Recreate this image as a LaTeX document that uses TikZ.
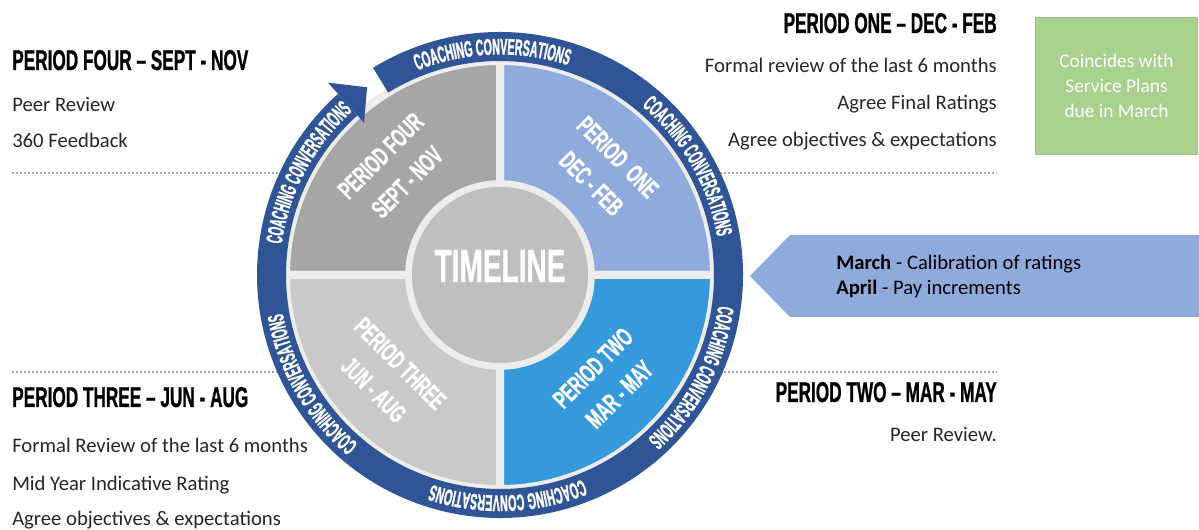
\documentclass[tikz,border=0pt]{standalone}
\usepackage{fontspec}
\setmainfont{Carlito}
\newfontfamily\bebas[FakeStretch=0.6, FakeBold=0.8]{Liberation Sans}
\newfontfamily\bebasnarrow[FakeStretch=0.47, FakeBold=1.2]{Liberation Sans}
\usetikzlibrary{decorations.text}

\definecolor{ringblue}{HTML}{2F5597}
\definecolor{qone}{HTML}{8FAADC}
\definecolor{qtwo}{HTML}{3599DB}
\definecolor{qthree}{HTML}{C9C9C9}
\definecolor{qfour}{HTML}{A6A6A6}
\definecolor{hubgray}{HTML}{BFBFBF}
\definecolor{gapgray}{HTML}{EDEDED}
\definecolor{plangreen}{HTML}{A9D18E}
\definecolor{planedge}{HTML}{A3BF90}
\definecolor{dotgray}{HTML}{A6A6A6}
\definecolor{bodytext}{HTML}{262626}

\begin{document}
\begin{tikzpicture}[x=0.75pt,y=0.75pt,
  heading/.style={font=\bebas\bfseries\fontsize{21.5}{24}\selectfont, text=black, inner sep=0pt},
  body/.style={font=\fontsize{15.5}{18}\selectfont, text=bodytext, inner sep=0pt},
  quarter/.style={font=\bebas\bfseries\fontsize{19.5}{28}\selectfont, text=white, align=center, inner sep=0pt},
  sector/.style={draw=gapgray, line width=6pt, line join=round},
  divider/.style={dotgray, line width=1.1pt, dash pattern=on 1.2pt off 1.8pt}]
\useasboundingbox (0,0) rectangle (1199,-530);

\draw[divider] (12,-173) -- (997,-173);
\draw[divider] (12,-372) -- (997,-372);

\begin{scope}[shift={(500,-275)}]
% quarters
\filldraw[sector, fill=qone] (0,0) -- (0:214) arc[start angle=0, end angle=90, radius=214] -- cycle;
\filldraw[sector, fill=qfour] (0,0) -- (90:214) arc[start angle=90, end angle=180, radius=214] -- cycle;
\filldraw[sector, fill=qthree] (0,0) -- (180:214) arc[start angle=180, end angle=270, radius=214] -- cycle;
\filldraw[sector, fill=qtwo] (0,0) -- (270:214) arc[start angle=270, end angle=360, radius=214] -- cycle;

% hub
\filldraw[fill=hubgray, draw=gapgray, line width=5pt] (0,0) circle[radius=91.5];
\node[font=\bebas\bfseries\fontsize{35}{38}\selectfont, text=white, inner sep=0pt] (timeline) at (0,9) {TIMELINE};

% ring with arrow
\fill[ringblue] (121.5:243) arc[start angle=121.5, end angle=-228.2, radius=243]
  -- (-228.2:214) arc[start angle=-228.2, end angle=121.5, radius=214] -- cycle;
\fill[ringblue] (131.8:204) -- (131.8:258) -- (125.3:230) -- cycle;

\foreach \a in {92,30,-28,-88,-150,152}
  \path[decorate, decoration={text along path, text align=center,
      text={|\bebasnarrow\bfseries\fontsize{17}{19}\selectfont\color{white}|COACHING CONVERSATIONS}}]
    (\a+35:220.5) arc[start angle=\a+35, end angle=\a-35, radius=220.5];

\node[quarter, rotate=-45] (one) at (45:148) {PERIOD\ \ ONE\\DEC - FEB};
\node[quarter, rotate=45] (two) at (-45:150) {PERIOD TWO\\MAR - MAY};
\node[quarter, rotate=-45] (three) at (-138:152) {PERIOD THREE\\JUN - AUG};
\node[quarter, rotate=45] (four) at (135:150) {PERIOD FOUR\\SEPT - NOV};
\end{scope}

% period four
\node[heading, anchor=base west] (fourhead) at (12,-70) {PERIOD FOUR – SEPT - NOV};
\node[body, anchor=base west] (fourpeer) at (12,-112) {Peer Review};
\node[body, anchor=base west] (fourfeed) at (12,-148) {360 Feedback};

% period one
\node[heading, anchor=base east] (onehead) at (997,-33) {PERIOD ONE – DEC - FEB};
\node[body, anchor=base east] (oneformal) at (997,-73) {Formal review of the last 6 months};
\node[body, anchor=base east] (onefinal) at (997,-110) {Agree Final Ratings};
\node[body, anchor=base east] (oneagree) at (997,-147) {Agree objectives \& expectations};

% period three
\node[heading, anchor=base west] (threehead) at (12,-407) {PERIOD THREE – JUN - AUG};
\node[body, anchor=base west] (threeformal) at (12,-453) {Formal Review of the last 6 months};
\node[body, anchor=base west] (threemid) at (12,-490) {Mid Year Indicative Rating};
\node[body, anchor=base west] (threeagree) at (12,-525) {Agree objectives \& expectations};

% period two
\node[heading, anchor=base east] (twohead) at (997,-402) {PERIOD TWO – MAR - MAY};
\node[body, anchor=base east] (twopeer) at (997,-442) {Peer Review.};

% march / april callout
\fill[qone] (750,-276) -- (790,-235) -- (1199,-235) -- (1199,-317) -- (790,-317) -- cycle;
\node[body, text=black, anchor=base west] (march) at (836,-270) {\textbf{March} - Calibration of ratings};
\node[body, text=black, anchor=base west] (april) at (836,-295) {\textbf{April} - Pay increments};

% service plans box
\node[fill=plangreen, draw=planedge, line width=0.6pt, minimum width=121pt, minimum height=103pt,
  align=center, text=white, font=\fontsize{14.5}{18.75}\selectfont] (plans) at (1116.5,-86)
  {Coincides with\\Service Plans\\due in March};
\end{tikzpicture}
\end{document}
